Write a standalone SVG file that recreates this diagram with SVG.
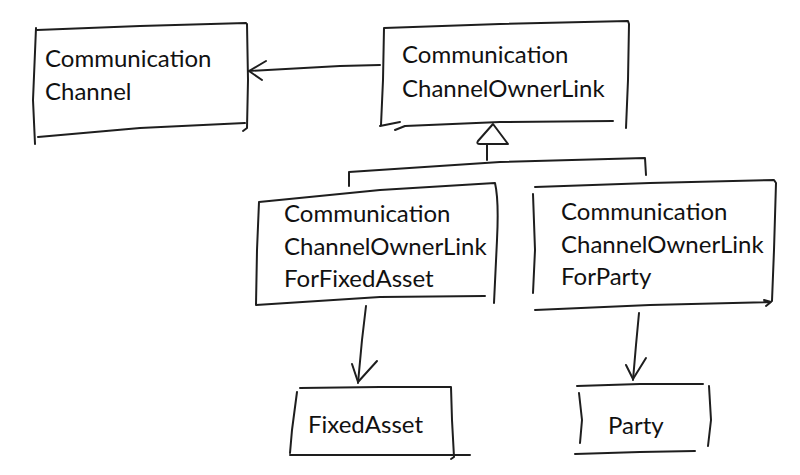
<svg xmlns="http://www.w3.org/2000/svg" width="800" height="475" viewBox="0 0 800 475">
<style>
.s{fill:none;stroke:#1e1e1e;stroke-width:2;stroke-linecap:round;stroke-linejoin:round}
.t{font-family:Lato,"Open Sans","Liberation Sans",sans-serif;font-size:24px;fill:#111}
</style>
<rect width="800" height="475" fill="#fff"/>
<g id="connectors">
  <path class="s" d="M380,65 L340,66 L248,71"/>
  <path class="s" d="M266,61 L249,71 L262,80"/>
  <path class="s" d="M493,124 L478,141 Q476,144 480,144 L508,144 Z"/>
  <path class="s" d="M487,144 L487,160"/>
  <path class="s" d="M349,186 L349,172 L500,162 L645,158 L646,175"/>
  <path class="s" d="M366,306 L362,340 L358,383"/>
  <path class="s" d="M352,364 L358,382 L377,361"/>
  <path class="s" d="M639,313 L636,345 L633,380"/>
  <path class="s" d="M626,365 L633,379 L646,358"/>
</g>
<g id="CommunicationChannel">
  <path class="s" d="M35,144 L33,100 L36,28 M37,30 L140,26 L246,23 M247,24 L248,80 L247,128 L243,131 M38,137 L140,128 L245,123"/>
  <text class="t" x="45" y="67">Communication</text>
  <text class="t" x="45" y="100">Channel</text>
</g>
<g id="CommunicationChannelOwnerLink">
  <path class="s" d="M381,125 L383,80 L384,28 M384,28 L500,24 L628,21 L629,24 L628,80 L626,128 M380,126 L400,122 M395,130 L405,126 L500,122 L613,121"/>
  <text class="t" x="402" y="63">Communication</text>
  <text class="t" x="402" y="97">ChannelOwnerLink</text>
</g>
<g id="CommunicationChannelOwnerLinkForFixedAsset">
  <path class="s" d="M259,202 L257,250 L256,305 M259,202 L380,190 L495,183 Q499,200 497,240 L494,303 M256,305 L380,297 L485,296"/>
  <text class="t" x="284" y="222">Communication</text>
  <text class="t" x="284" y="255">ChannelOwnerLink</text>
  <text class="t" x="284" y="287">ForFixedAsset</text>
</g>
<g id="CommunicationChannelOwnerLinkForParty">
  <path class="s" d="M533,194 L535,250 L533,293 M535,187 L650,183 L774,180 L776,183 L774,250 L772,301 M535,310 L650,305 L771,302 M764,300 L771,302 L766,306"/>
  <text class="t" x="561" y="220">Communication</text>
  <text class="t" x="561" y="253">ChannelOwnerLink</text>
  <text class="t" x="561" y="285">ForParty</text>
</g>
<g id="FixedAsset">
  <path class="s" d="M297,392 L292,430 L290,453 M300,388 L380,387 L451,387 L452,420 L454,457 L451,459 M290,455 L380,455 L470,455"/>
  <text class="t" x="308" y="433">FixedAsset</text>
</g>
<g id="Party">
  <path class="s" d="M579,393 L582,420 L580,443 M577,386 L640,384 L703,384 M709,386 L711,420 L708,446 M575,454 L640,452 L695,451"/>
  <text class="t" x="608" y="434">Party</text>
</g>
</svg>
